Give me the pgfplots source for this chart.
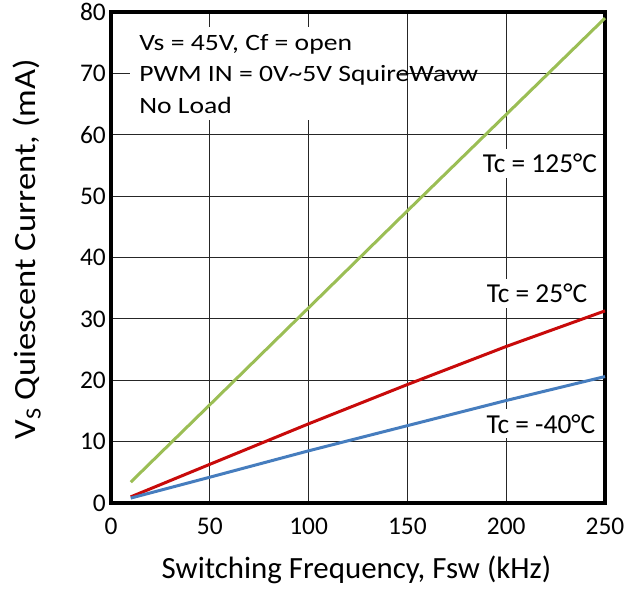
\documentclass[border=0pt]{standalone}
\usepackage{pgfplots}
\pgfplotsset{compat=1.18}
\usepackage{fontspec}
\setmainfont{Carlito}
\newfontfamily\ylabfont{Carlito}[FakeStretch=1.12]
\newfontfamily\notefont{Carlito}[FakeStretch=1.18]
\begin{document}
\begin{tikzpicture}
\begin{axis}[
    scale only axis,
    width=494bp, height=491bp,
    xmin=0, xmax=250, ymin=0, ymax=80,
    xtick={0,50,...,250}, ytick={0,10,...,80},
    grid=major,
    major grid style={black!85, line width=1bp},
    axis line style={line width=3.2bp},
    major tick length=0pt,
    /pgf/number format/assume math mode=true,
    tick label style={font=\fontsize{25.5}{30}\selectfont, inner sep=0pt},
    xticklabel style={anchor=base, yshift=-32bp},
    yticklabel style={anchor=east, xshift=-5bp},
    xlabel={Switching Frequency, Fsw (kHz)},
    ylabel={V\textsubscript{S} Quiescent Current, (mA)},
    xlabel style={font=\fontsize{31}{36}\selectfont, at={(axis description cs:0.497,-0.1548)}, anchor=base},
    ylabel style={font=\ylabfont\fontsize{31}{36}\selectfont, at={(axis description cs:-0.1538,0.517)}, anchor=base},
    clip=false,
]
% Tc = 125 C
\addplot[color={rgb,255:red,155;green,190;blue,85}, line width=3bp] coordinates {
    (10,3.4) (50,16.0) (100,31.8) (150,47.6) (200,63.3) (250,79.0)
};
% Tc = 25 C
\addplot[color={rgb,255:red,200;green,10;blue,10}, line width=3bp] coordinates {
    (10,1.0) (50,6.3) (100,12.9) (150,19.3) (200,25.5) (250,31.3)
};
% Tc = -40 C
\addplot[color={rgb,255:red,70;green,125;blue,190}, line width=3bp] coordinates {
    (10,0.8) (50,4.2) (100,8.5) (150,12.6) (200,16.7) (250,20.6)
};
\begin{scope}[every node/.style={fill=white, anchor=base, inner xsep=3bp, inner ysep=5bp, font=\fontsize{27.5}{32}\selectfont}]
\node at (axis cs:217.1,53.8) {Tc = 125°C};
\node at (axis cs:215.6,32.6) {Tc = 25°C};
\node at (axis cs:217.6,11.4) {Tc = -40°C};
\end{scope}
\fill[white] (axis cs:9.6,62.4) rectangle (axis cs:146.3,77.6);
\begin{scope}[every node/.style={anchor=base west, inner sep=0pt, font=\notefont\fontsize{23.5}{28}\selectfont}]
\node at (axis cs:14.2,73.8) {Vs = 45V, Cf = open};
\node at (axis cs:14.2,68.6) {PWM IN = 0V\char`~5V SquireWavw};
\node at (axis cs:14.2,63.4) {No Load};
\end{scope}
\pgfresetboundingbox
\path[use as bounding box] ([xshift=-111bp,yshift=-88bp]rel axis cs:0,0) rectangle ([xshift=30bp,yshift=12bp]rel axis cs:1,1);
\end{axis}
\end{tikzpicture}
\end{document}
